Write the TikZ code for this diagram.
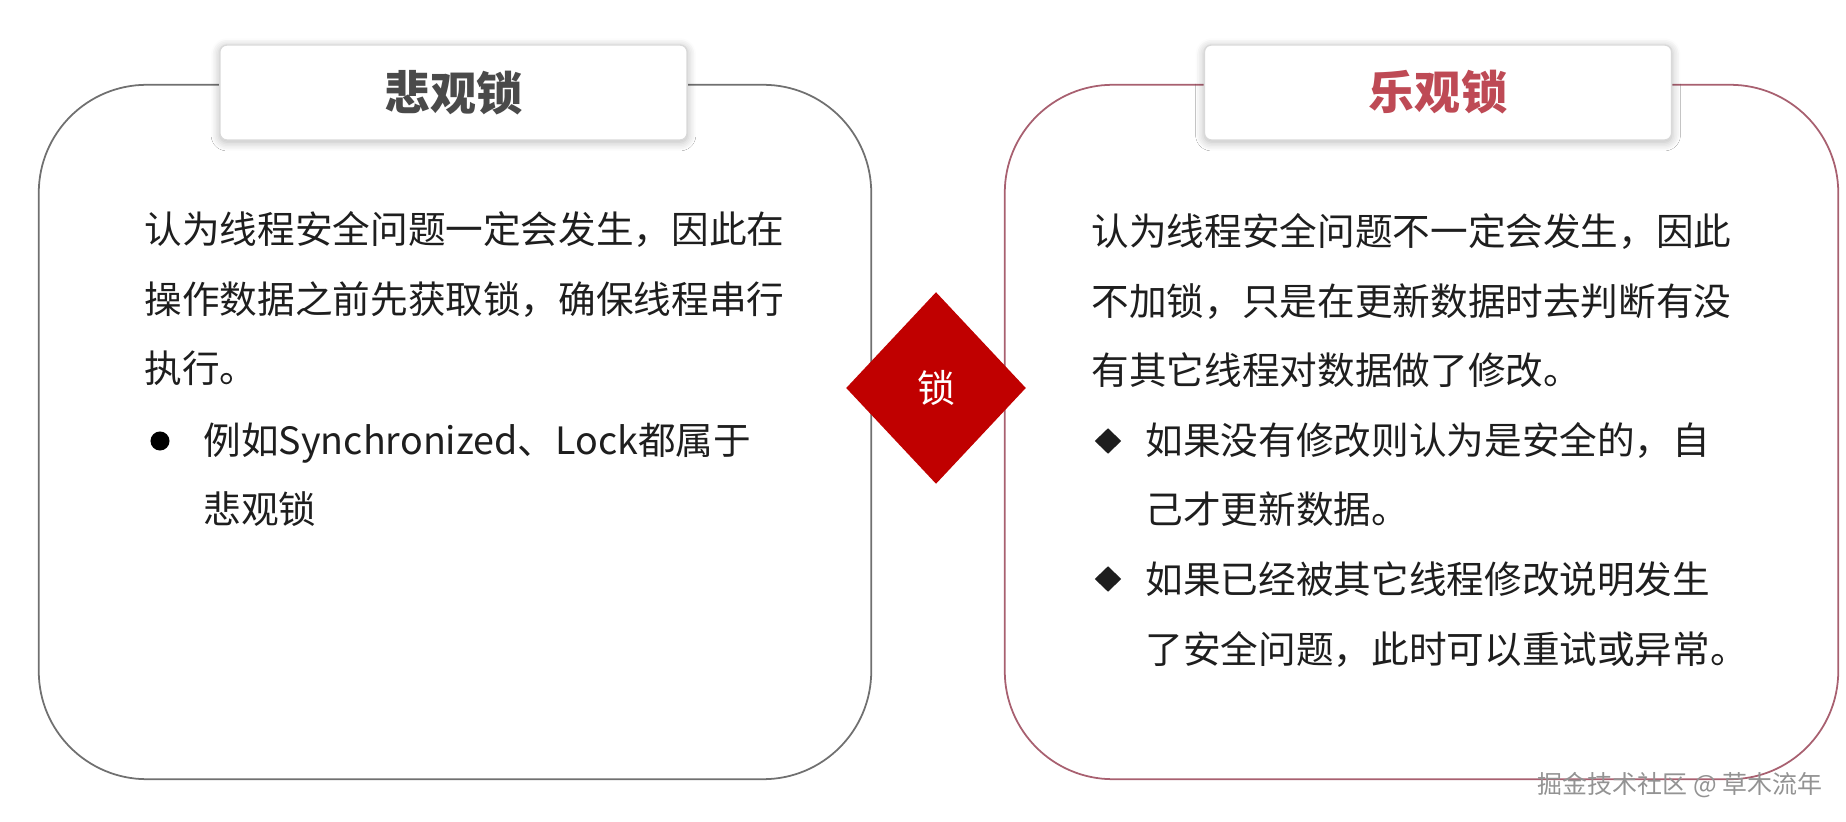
\documentclass[tikz,border=0pt]{standalone}
\usepackage{fontspec}
\setmainfont{Noto Sans CJK SC}
\usetikzlibrary{positioning,shapes.geometric,shadows.blur}

\definecolor{pessline}{HTML}{707070}
\definecolor{optiline}{HTML}{A86070}
\definecolor{pesstitle}{HTML}{4A4A4A}
\definecolor{optititle}{HTML}{BE4A55}
\definecolor{lockred}{HTML}{C00000}
\definecolor{bodyblack}{HTML}{1E1E1E}

\tikzset{
  bigbox/.style={draw, line width=0.5pt, rounded corners=1.08cm, fill=white,
    minimum width=8.32cm, minimum height=6.94cm, inner sep=0pt},
  titlebox/.style={draw=gray!30, line width=0.4pt, rounded corners=2pt, fill=white,
    minimum width=4.67cm, minimum height=0.95cm, inner sep=0pt,
    font=\fontsize{13.1pt}{15pt}\selectfont\bfseries,
    blur shadow={shadow xshift=0pt, shadow yshift=-0.6pt, shadow blur steps=6,
      shadow blur radius=2.5pt, shadow opacity=30}},
  % base 锚点落在最后一行
  bodytext/.style={anchor=base west, align=left, inner sep=0pt, text=bodyblack,
    font=\fontsize{10.7pt}{19.9pt}\selectfont},
  dotbullet/.style={circle, fill=black, minimum size=0.19cm, inner sep=0pt},
  diabullet/.style={diamond, fill=bodyblack, minimum width=0.27cm, minimum height=0.26cm, inner sep=0pt}
}

\begin{document}
\begin{tikzpicture}[x=0.01cm, y=-0.01cm]
  \useasboundingbox (0,0) rectangle (1846,822);

  % 两个大框
  \node[bigbox, draw=pessline] (pessbox) at (455,432) {};
  \node[bigbox, draw=optiline, minimum width=8.33cm] (optibox) at (1421.5,432) {};

  % 标题
  \node[titlebox, text=pesstitle] (pesshead) at (453.5,92.5) {悲观锁};
  \node[titlebox, text=optititle] (optihead) at (1438,92.5) {乐观锁};

  % 中间的菱形
  \node[diamond, fill=lockred, minimum width=1.80cm, minimum height=1.92cm, inner sep=0pt,
    text=white, font=\fontsize{10.8pt}{12pt}\selectfont] (lock) at (936,388) {锁};

  % 悲观锁说明
  \node[bodytext] (pesstext) at (144,383) {认为线程安全问题一定会发生，因此在\\操作数据之前先获取锁，确保线程串行\\执行。};
  \node[dotbullet] (pessdot) at (160,441) {};
  \node[bodytext] (pessitem) at (203,524) {例如Synchronized、Lock都属于\\悲观锁};

  % 乐观锁说明
  \node[bodytext] (optitext) at (1091,385) {认为线程安全问题不一定会发生，因此\\不加锁，只是在更新数据时去判断有没\\有其它线程对数据做了修改。};
  \node[diabullet] (optidia1) at (1108,441) {};
  \node[bodytext] (optiitem1) at (1145,524) {如果没有修改则认为是安全的，自\\己才更新数据。};
  \node[diabullet] (optidia2) at (1108,579) {};
  \node[bodytext] (optiitem2) at (1145,663) {如果已经被其它线程修改说明发生\\了安全问题，此时可以重试或异常。};

  % 水印
  \node[text=gray!85, font=\fontsize{7.1pt}{8pt}\selectfont, inner sep=0pt] (mark) at (1680,785) {掘金技术社区 @ 草木流年};
\end{tikzpicture}
\end{document}
